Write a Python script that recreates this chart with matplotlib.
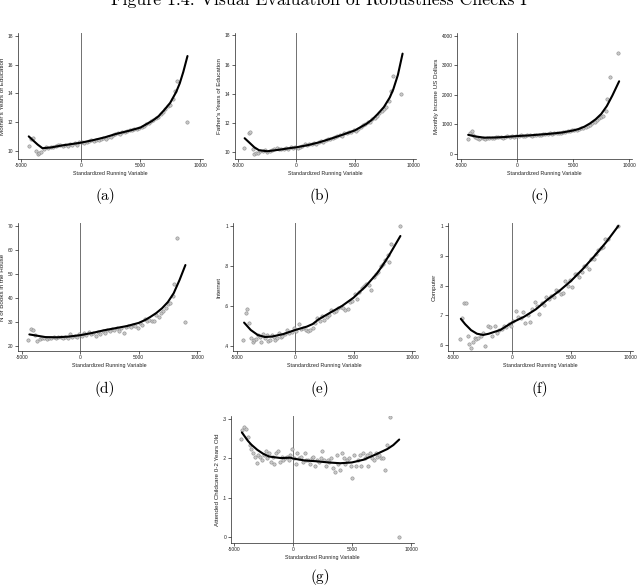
import matplotlib
matplotlib.use("Agg")
import matplotlib.pyplot as plt

W, H = 638, 585

# ---------------- data ----------------
# (a) Mother's years of education
a_x = [-4350,-4150,-4000,-3750,-3600,-3450,-3300,-3100,-2900,-2700,-2500,-2300,-2100,-1900,-1700,-1500,-1300,-1100,-900,-700,-500,-300,-100,100,300,500,700,900,1100,1300,1500,1700,1900,2100,2300,2500,2700,2900,3100,3300,3500,3700,3900,4100,4300,4500,4700,4900,5100,5300,5500,5700,5900,6100,6300,6500,6700,6900,7100,7300,7500,7700,7900,8100,8900]
a_y = [10.35,10.85,10.9,10.0,9.8,9.85,9.95,10.15,10.25,10.2,10.3,10.25,10.35,10.4,10.45,10.35,10.4,10.35,10.5,10.45,10.55,10.4,10.6,10.6,10.55,10.65,10.7,10.75,10.7,10.8,10.75,10.85,10.9,10.85,11.0,10.95,11.1,11.2,11.25,11.2,11.3,11.35,11.4,11.45,11.45,11.5,11.55,11.6,11.7,11.75,11.85,11.95,12.1,12.15,12.3,12.4,12.55,12.7,12.9,13.1,13.2,13.6,14.2,14.9,12.0]
a_fx = [-4350,-4000,-3600,-3200,-2500,-1500,-500,0,1000,2000,3000,4000,5000,6000,6500,7000,7500,8000,8300,8600,8950]
a_fy = [11.02,10.75,10.45,10.2,10.25,10.4,10.52,10.58,10.75,10.95,11.2,11.4,11.63,12.1,12.4,12.85,13.35,14.1,14.7,15.5,16.6]

# (b) Father's years of education
b_x = [-4450,-4100,-4000,-3750,-3600,-3450,-3300,-3100,-2900,-2700,-2500,-2300,-2100,-1900,-1700,-1500,-1300,-1100,-900,-700,-500,-300,-100,100,300,500,700,900,1100,1300,1500,1700,1900,2100,2300,2500,2700,2900,3100,3300,3500,3700,3900,4100,4300,4500,4700,4900,5100,5300,5500,5700,5900,6100,6300,6500,6700,6900,7100,7300,7500,7700,7900,8100,8250,9000]
b_y = [10.3,11.3,11.4,10.2,9.9,9.95,9.95,10.1,10.1,10.15,10.05,10.1,10.15,10.25,10.3,10.2,10.25,10.2,10.3,10.25,10.35,10.3,10.35,10.3,10.35,10.45,10.55,10.5,10.55,10.6,10.65,10.6,10.7,10.75,10.7,10.85,10.95,10.95,11.0,11.05,11.1,11.2,11.15,11.3,11.3,11.4,11.4,11.5,11.45,11.6,11.75,11.85,11.95,12.05,12.1,12.25,12.35,12.5,12.7,12.85,13.0,13.1,13.5,14.2,15.2,14.0]
b_fx = [-4430,-4000,-3600,-3200,-2500,-1500,-500,0,1000,2000,3000,4000,5000,6000,6500,7000,7500,8000,8300,8700,9100]
b_fy = [10.97,10.65,10.35,10.15,10.08,10.18,10.3,10.35,10.5,10.7,10.95,11.22,11.5,11.95,12.25,12.65,13.1,13.75,14.3,15.3,16.75]

# (c) Monthly income US dollars
c_x = [-4430,-4230,-4100,-3950,-3750,-3600,-3450,-3300,-3100,-2900,-2700,-2500,-2300,-2100,-1900,-1700,-1500,-1300,-1100,-900,-700,-500,-300,-100,100,300,500,700,900,1100,1300,1500,1700,1900,2100,2300,2500,2700,2900,3100,3300,3500,3700,3900,4100,4300,4500,4700,4900,5100,5300,5500,5700,5900,6100,6300,6500,6700,6900,7100,7300,7500,7700,7900,8050,8250,9000]
c_y = [510,700,760,640,560,520,510,530,540,510,550,530,550,520,560,560,570,550,580,590,570,600,580,610,600,620,590,610,620,630,610,640,630,650,640,660,670,660,690,680,700,690,720,710,740,730,760,770,790,800,820,830,860,880,900,950,980,1050,1090,1150,1200,1250,1280,1450,1850,2620,3420]
c_fx = [-4400,-3800,-3000,-2000,-1000,0,1000,2000,3000,4000,5000,5500,6000,6500,7000,7500,8000,8500,9100]
c_fy = [640,590,545,550,570,600,620,650,680,720,790,840,920,1030,1170,1350,1620,1980,2460]

# (d) N of books in the house
d_x = [-4450,-4200,-4050,-3900,-3700,-3500,-3300,-3100,-2900,-2700,-2500,-2300,-2100,-1900,-1700,-1500,-1300,-1100,-900,-700,-500,-300,-100,100,300,500,700,900,1100,1300,1500,1700,1900,2100,2300,2500,2700,2900,3100,3300,3500,3700,3900,4100,4300,4500,4700,4900,5100,5300,5500,5700,5900,6100,6300,6500,6700,6900,7100,7300,7500,7700,7900,8050,8250,9000]
d_y = [22.5,27.2,26.5,24.6,22.0,23.0,23.2,23.4,23.0,23.5,23.3,23.6,23.2,23.8,23.9,23.4,23.7,23.2,24.8,23.9,24.3,23.6,24.9,24.2,25.2,24.6,25.8,24.9,25.6,24.2,25.9,25.1,26.2,25.6,26.8,26.1,27.0,26.6,27.3,26.4,27.6,25.6,28.1,28.4,27.9,28.7,28.5,27.6,29.6,28.9,31.2,30.3,31.0,30.5,30.2,33.0,32.0,33.8,34.4,36.0,37.3,37.9,41.0,45.9,65.0,30.0]
d_fx = [-4370,-3500,-3000,-2000,-1000,0,1000,2000,3000,4000,5000,5500,6000,6500,7000,7500,8000,8500,9000]
d_fy = [24.8,24.1,23.7,23.6,23.9,24.5,25.4,26.5,27.4,28.3,29.6,30.7,32.1,33.7,35.7,38.3,42.0,47.5,53.7]

# (e) Internet
e_x = [-4450,-4250,-4100,-3950,-3800,-3650,-3500,-3350,-3200,-3050,-2900,-2750,-2600,-2450,-2300,-2150,-2000,-1850,-1700,-1550,-1400,-1250,-1100,-900,-700,-500,-300,-100,100,300,500,700,900,1100,1300,1500,1700,1900,2100,2300,2500,2700,2900,3100,3300,3500,3700,3900,4100,4300,4500,4700,4900,5100,5300,5500,5700,5900,6100,6300,6500,6700,6900,7100,7300,7500,7700,7900,8000,8200,9000]
e_y = [0.43,0.565,0.585,0.515,0.44,0.42,0.43,0.435,0.455,0.445,0.42,0.46,0.44,0.455,0.425,0.43,0.455,0.445,0.43,0.44,0.465,0.445,0.45,0.46,0.48,0.465,0.47,0.49,0.475,0.51,0.485,0.49,0.48,0.475,0.48,0.49,0.515,0.54,0.525,0.55,0.53,0.545,0.555,0.58,0.57,0.575,0.59,0.595,0.59,0.58,0.585,0.62,0.625,0.66,0.635,0.67,0.69,0.7,0.71,0.705,0.68,0.745,0.76,0.77,0.8,0.81,0.83,0.855,0.82,0.91,1.0]
e_fx = [-4370,-3800,-3200,-2600,-2000,-1000,0,1000,1500,2000,3000,4000,5000,6000,7000,7500,8000,8500,9000]
e_fy = [0.517,0.48,0.455,0.445,0.447,0.46,0.48,0.497,0.51,0.533,0.567,0.6,0.642,0.697,0.763,0.805,0.85,0.9,0.95]

# (f) Computer
f_x = [-4450,-4250,-4100,-3950,-3800,-3650,-3500,-3350,-3200,-3050,-2900,-2700,-2500,-2300,-2100,-1900,-1700,-1500,-1300,-1100,-900,-700,-500,-300,-100,100,300,500,700,900,1100,1300,1500,1700,1900,2100,2300,2500,2700,2900,3100,3300,3500,3700,3900,4100,4300,4500,4700,4900,5100,5300,5500,5700,5900,6100,6300,6500,6700,6900,7100,7300,7500,7700,7900,8100,9000]
f_y = [0.62,0.69,0.742,0.742,0.63,0.605,0.59,0.61,0.625,0.62,0.625,0.63,0.64,0.598,0.665,0.66,0.63,0.665,0.64,0.65,0.655,0.665,0.66,0.67,0.665,0.68,0.715,0.695,0.69,0.71,0.675,0.7,0.678,0.72,0.745,0.73,0.705,0.74,0.735,0.76,0.755,0.765,0.76,0.785,0.78,0.77,0.775,0.815,0.8,0.82,0.795,0.84,0.84,0.83,0.845,0.865,0.865,0.855,0.89,0.89,0.905,0.92,0.925,0.93,0.955,0.955,1.0]
f_fx = [-4370,-4000,-3500,-3000,-2470,-2000,-1000,0,1000,2000,3000,4000,5000,6000,7000,8000,9000]
f_fy = [0.688,0.67,0.65,0.638,0.634,0.638,0.651,0.676,0.695,0.72,0.753,0.782,0.816,0.856,0.9,0.947,1.0]

# (g) Attended childcare 0-2 years old
g_x = [-4400,-4250,-4100,-3950,-3800,-3650,-3500,-3350,-3200,-3050,-2900,-2750,-2600,-2450,-2300,-2150,-2000,-1850,-1700,-1550,-1400,-1250,-1100,-950,-800,-650,-500,-350,-200,-50,100,250,400,550,700,850,1000,1150,1300,1450,1600,1750,1900,2050,2200,2350,2500,2650,2800,2950,3100,3250,3400,3550,3700,3850,4000,4150,4300,4450,4600,4750,4900,5050,5200,5350,5500,5650,5800,5950,6100,6250,6400,6550,6700,6850,7000,7150,7300,7450,7600,7780,7950,8200,8950]
g_y = [0.25,0.272,0.28,0.275,0.255,0.235,0.225,0.215,0.205,0.188,0.21,0.205,0.195,0.21,0.22,0.2,0.215,0.19,0.205,0.185,0.215,0.22,0.19,0.205,0.195,0.2,0.205,0.195,0.21,0.225,0.2,0.185,0.215,0.2,0.205,0.19,0.215,0.195,0.195,0.185,0.2,0.205,0.18,0.195,0.19,0.2,0.22,0.195,0.18,0.195,0.19,0.2,0.175,0.165,0.21,0.185,0.17,0.215,0.2,0.185,0.195,0.2,0.18,0.151,0.21,0.18,0.195,0.21,0.18,0.215,0.2,0.21,0.18,0.215,0.2,0.195,0.215,0.205,0.21,0.2,0.2,0.172,0.235,0.305,0.0]
g_fx = [-4300,-3800,-3500,-3000,-2500,-2000,-1000,-200,0,1000,2000,3000,4000,5000,6000,7000,8000,8500,9000]
g_fy = [0.266,0.245,0.235,0.222,0.212,0.205,0.201,0.202,0.2,0.195,0.193,0.19,0.188,0.19,0.197,0.21,0.224,0.234,0.248]

x_ticks = [-5000, 0, 5000, 10000]
x_ticklabels = ["-5000", "0", "5000", "10000"]

panels = [
    dict(x=a_x, y=a_y, fx=a_fx, fy=a_fy, ylabel="Mother's Years of Education",
         yt=[10,12,14,16,18], ytl=["10","12","14","16","18"], tag="(a)"),
    dict(x=b_x, y=b_y, fx=b_fx, fy=b_fy, ylabel="Father's Years of Education",
         yt=[10,12,14,16,18], ytl=["10","12","14","16","18"], tag="(b)"),
    dict(x=c_x, y=c_y, fx=c_fx, fy=c_fy, ylabel="Monthly Income US Dollars",
         yt=[0,1000,2000,3000,4000], ytl=["0","1000","2000","3000","4000"], tag="(c)"),
    dict(x=d_x, y=d_y, fx=d_fx, fy=d_fy, ylabel="N of Books in the House",
         yt=[20,30,40,50,60,70], ytl=["20","30","40","50","60","70"], tag="(d)"),
    dict(x=e_x, y=e_y, fx=e_fx, fy=e_fy, ylabel="Internet",
         yt=[0.4,0.6,0.8,1.0], ytl=[".4",".6",".8","1"], tag="(e)"),
    dict(x=f_x, y=f_y, fx=f_fx, fy=f_fy, ylabel="Computer",
         yt=[0.6,0.7,0.8,0.9,1.0], ytl=[".6",".7",".8",".9","1"], tag="(f)"),
    dict(x=g_x, y=g_y, fx=g_fx, fy=g_fy, ylabel="Attended Childcare 0-2 Years Old",
         yt=[0,0.1,0.2,0.3], ytl=["0",".1",".2",".3"], tag="(g)"),
]

# layout (pixel boxes: left, top, right, bottom), limits
boxes = [(18,33,203,159), (235,33,416,159), (457,33,632,159),
         (18,223,200,351), (233,223,415,351), (448,223,633,351),
         (231,416,414,543)]
xlims = [(-5250,10250), (-5257,10250), (-5400,10250),
         (-5343,10250), (-5320,10250), (-5460,10250), (-5220,10250)]
ylims = [(9.45,18.2), (9.55,18.16), (-180,4100),
         (17.9,71.2), (0.375,1.015), (0.58,1.01), (-0.014,0.3076)]
tag_pos = [(105,196), (320,196), (540,196), (105,389), (320,389), (540,389), (320,577)]

sans = ["Liberation Sans", "DejaVu Sans"]
serif = "cmr10"

fig = plt.figure(figsize=(W/100, H/100), dpi=100)

for p, (l,t,r,b), xl, yl, tp in zip(panels, boxes, xlims, ylims, tag_pos):
    ax = fig.add_axes([l/W, 1-b/H, (r-l)/W, (b-t)/H])
    ax.axvline(0, color="#707070", lw=0.7, zorder=1)
    ax.plot(p["x"], p["y"], linestyle="none", marker="o", ms=2.4,
            mfc="#c8c8c8", mec="#8c8c8c", mew=0.4, zorder=2)
    ax.plot(p["fx"], p["fy"], color="black", lw=1.5, zorder=3,
            solid_capstyle="round", solid_joinstyle="round")
    ax.set_xlim(*xl)
    ax.set_ylim(*yl)
    ax.set_xticks(x_ticks)
    ax.set_xticklabels(x_ticklabels, family=sans)
    ax.set_yticks(p["yt"])
    ax.set_yticklabels(p["ytl"], family=sans)
    ax.tick_params(axis="both", length=2, width=0.5, labelsize=3.5, pad=1.2,
                   colors="#222222")
    for s in ("top", "right"):
        ax.spines[s].set_visible(False)
    for s in ("left", "bottom"):
        ax.spines[s].set_linewidth(0.5)
        ax.spines[s].set_color("#222222")
    ax.set_xlabel("Standardized Running Variable", fontsize=3.9, family=sans,
                  labelpad=1.5, color="#222222")
    ax.set_ylabel(p["ylabel"], fontsize=4.5, family=sans, labelpad=2,
                  color="#222222")
    fig.text(tp[0]/W, 1-tp[1]/H, p["tag"], ha="center", va="center",
             fontsize=11, family=serif)

fig.text(0.5, 1-5/H, "Figure 1.4: Visual Evaluation of Robustness Checks I",
         ha="center", va="baseline", fontsize=12.8, family=serif)

fig.savefig("out.png", dpi=100)
